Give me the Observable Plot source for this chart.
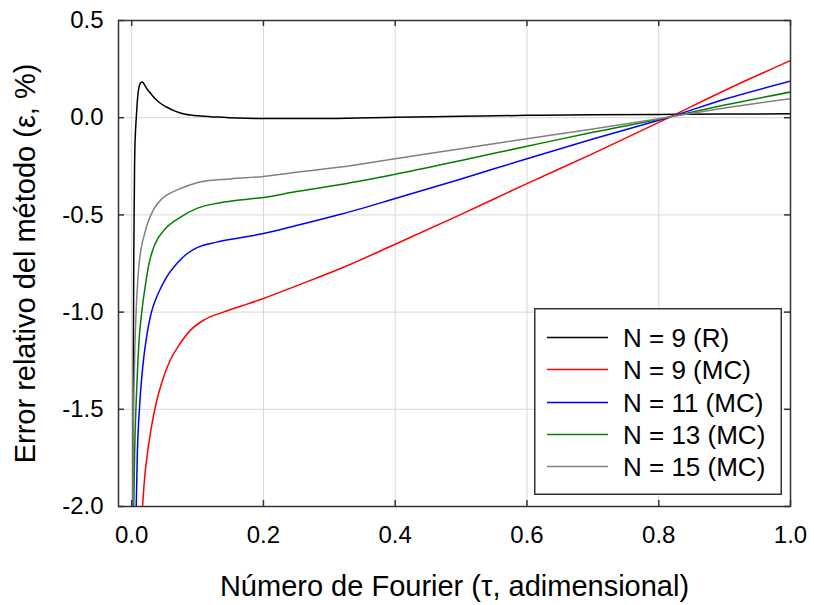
<!DOCTYPE html>
<html>
<head>
<meta charset="utf-8">
<script src="https://cdn.jsdelivr.net/npm/d3@7"></script>
<script src="https://cdn.jsdelivr.net/npm/@observablehq/plot@0.6"></script>
<style>
  html, body { margin: 0; padding: 0; background: #fff; }
  #wrap { position: relative; width: 814px; height: 605px; font-family: "Liberation Sans", Arial, sans-serif; }
  #legend { position: absolute; left: 534px; top: 308px; }
</style>
</head>
<body>
<div id="wrap"></div>
<script>
// ---- Data ----
const xTicks = [0.0, 0.2, 0.4, 0.6, 0.8, 1.0];
const yTicks = [-2.0, -1.5, -1.0, -0.5, 0.0, 0.5];

const seriesNames  = ["N = 9 (R)", "N = 9 (MC)", "N = 11 (MC)", "N = 13 (MC)", "N = 15 (MC)"];
const seriesColors = ["#000000", "#ff0000", "#0000ff", "#008000", "#808080"];

const tauR9 = [0.0018, 0.0025, 0.0032, 0.0045, 0.0058, 0.007, 0.0085, 0.0096, 0.011, 0.0125, 0.014, 0.0157, 0.0175, 0.019, 0.022, 0.025, 0.028, 0.035, 0.042, 0.053, 0.065, 0.078, 0.1, 0.13, 0.16, 0.2, 0.3, 0.4, 0.5, 0.6, 0.7, 0.8, 0.9, 1.0];
const errR9 = [-2.1, -1.3, -0.7, -0.22, -0.07, 0.0, 0.08, 0.123, 0.155, 0.172, 0.181, 0.184, 0.18, 0.172, 0.155, 0.14, 0.128, 0.1, 0.078, 0.055, 0.035, 0.02, 0.01, 0.003, -0.002, -0.004, -0.004, 0.002, 0.007, 0.012, 0.015, 0.017, 0.019, 0.02];

const tauMC9 = [0.0155, 0.02, 0.025, 0.03, 0.037, 0.045, 0.058, 0.07, 0.089, 0.11, 0.139, 0.17, 0.2, 0.25, 0.317, 0.4, 0.5, 0.6, 0.7, 0.8, 0.818, 0.9, 1.0];
const errMC9 = [-2.05, -1.84, -1.70, -1.59, -1.47, -1.37, -1.25, -1.18, -1.094, -1.04, -1.0, -0.965, -0.93, -0.865, -0.776, -0.651, -0.497, -0.339, -0.185, -0.024, 0.005, 0.14, 0.294];

const tauMC11 = [0.0066, 0.0085, 0.012, 0.016, 0.0197, 0.025, 0.03, 0.037, 0.045, 0.053, 0.07, 0.084, 0.1, 0.129, 0.16, 0.2, 0.25, 0.317, 0.4, 0.5, 0.6, 0.7, 0.8, 0.818, 0.9, 1.0];
const errMC11 = [-2.05, -1.74, -1.487, -1.31, -1.197, -1.08, -1.0, -0.93, -0.87, -0.82, -0.745, -0.7, -0.667, -0.64, -0.62, -0.596, -0.555, -0.497, -0.416, -0.315, -0.211, -0.11, -0.013, 0.005, 0.095, 0.188];

const tauMC13 = [0.003, 0.0045, 0.007, 0.0095, 0.012, 0.016, 0.0197, 0.027, 0.032, 0.04, 0.05, 0.07, 0.1, 0.13, 0.16, 0.2, 0.25, 0.317, 0.4, 0.5, 0.6, 0.7, 0.8, 0.818, 0.9, 1.0];
const errMC13 = [-2.05, -1.72, -1.45, -1.25, -1.11, -0.98, -0.887, -0.74, -0.68, -0.62, -0.575, -0.52, -0.465, -0.44, -0.425, -0.41, -0.38, -0.344, -0.291, -0.22, -0.147, -0.075, -0.008, 0.005, 0.065, 0.132];

const tauMC15 = [0.0017, 0.0025, 0.0035, 0.005, 0.007, 0.009, 0.011, 0.014, 0.0197, 0.025, 0.03, 0.035, 0.045, 0.055, 0.07, 0.085, 0.104, 0.15, 0.2, 0.25, 0.317, 0.4, 0.5, 0.6, 0.7, 0.8, 0.818, 0.9, 1.0];
const errMC15 = [-2.05, -1.65, -1.40, -1.17, -0.98, -0.85, -0.76, -0.68, -0.596, -0.535, -0.495, -0.462, -0.42, -0.395, -0.37, -0.35, -0.331, -0.315, -0.302, -0.28, -0.254, -0.211, -0.16, -0.108, -0.058, -0.005, 0.005, 0.05, 0.098];

const xTitle = "Número de Fourier (τ, adimensional)";
const yTitle = "Error relativo del método (ε, %)";

// ---- Build table ----
const seriesX = [tauR9, tauMC9, tauMC11, tauMC13, tauMC15];
const seriesY = [errR9, errMC9, errMC11, errMC13, errMC15];
const data = [];
seriesNames.forEach((name, i) => {
  seriesX[i].forEach((x, j) => data.push({series: name, x, y: seriesY[i][j]}));
});

const fmt = d => d.toFixed(1);
const W = 814, H = 605, ML = 118, MR = 24, MT = 20, MB = 99;
const innerW = W - ML - MR, innerH = H - MT - MB;
const tickLen = 6;
const font = "Liberation Sans, Arial, sans-serif";

const chart = Plot.plot({
  width: W, height: H,
  marginLeft: ML, marginRight: MR, marginTop: MT, marginBottom: MB,
  style: {fontFamily: font, background: "#fff", color: "#000"},
  x: {domain: [-0.02, 1.0], label: null},
  y: {domain: [-2.0, 0.5], label: null},
  color: {domain: seriesNames, range: seriesColors},
  marks: [
    Plot.gridX(xTicks, {stroke: "#d6d6d6", strokeOpacity: 1, strokeWidth: 1}),
    Plot.gridY(yTicks, {stroke: "#d6d6d6", strokeOpacity: 1, strokeWidth: 1}),
    Plot.line(data, {x: "x", y: "y", z: "series", stroke: "series", strokeWidth: 1.5, curve: "monotone-x", clip: true}),
    // inward ticks on all four sides
    Plot.tickX(xTicks, {x: d => d, insetTop: innerH - tickLen, stroke: "#333", strokeWidth: 1.5}),
    Plot.tickX(xTicks, {x: d => d, insetBottom: innerH - tickLen, stroke: "#333", strokeWidth: 1.5}),
    Plot.tickY(yTicks, {y: d => d, insetRight: innerW - tickLen, stroke: "#333", strokeWidth: 1.5}),
    Plot.tickY(yTicks, {y: d => d, insetLeft: innerW - tickLen, stroke: "#333", strokeWidth: 1.5}),
    Plot.axisX(xTicks, {tickSize: 0, tickPadding: 19, tickFormat: fmt, fontSize: 24, label: null}),
    Plot.axisY(yTicks, {tickSize: 0, tickPadding: 15, tickFormat: fmt, fontSize: 24, label: null}),
    Plot.frame({stroke: "#333", strokeWidth: 1.5}),
    Plot.text([xTitle], {frameAnchor: "bottom", dy: 80, fontSize: 29, textAnchor: "middle", lineAnchor: "middle", text: d => d}),
    Plot.text([yTitle], {frameAnchor: "left", dx: -93, rotate: -90, fontSize: 29, textAnchor: "middle", lineAnchor: "middle", text: d => d})
  ]
});

const wrap = document.getElementById("wrap");
wrap.appendChild(chart);

// ---- Legend (overlay box inside the plot area, lower right) ----
const LW = 248, LH = 187, rowY0 = 29, rowStep = 32.3;
const lsvg = d3.create("svg")
  .attr("id", "legend")
  .attr("width", LW).attr("height", LH)
  .style("font-family", font);
lsvg.append("rect")
  .attr("x", 0.75).attr("y", 0.75).attr("width", LW - 1.5).attr("height", LH - 1.5)
  .attr("fill", "#fff").attr("stroke", "#333").attr("stroke-width", 1.5);
const rows = lsvg.selectAll("g.row").data(seriesNames).join("g")
  .attr("class", "row")
  .attr("transform", (d, i) => `translate(0,${Math.round(rowY0 + i * rowStep) + 0.5})`);
rows.append("line")
  .attr("x1", 13).attr("x2", 74).attr("y1", 0).attr("y2", 0)
  .attr("stroke", (d, i) => seriesColors[i]).attr("stroke-width", 1.5);
rows.append("text")
  .attr("x", 89).attr("y", 0).attr("dy", "0.35em")
  .attr("font-size", 26).attr("fill", "#000")
  .text(d => d);
wrap.appendChild(lsvg.node());
</script>
</body>
</html>
